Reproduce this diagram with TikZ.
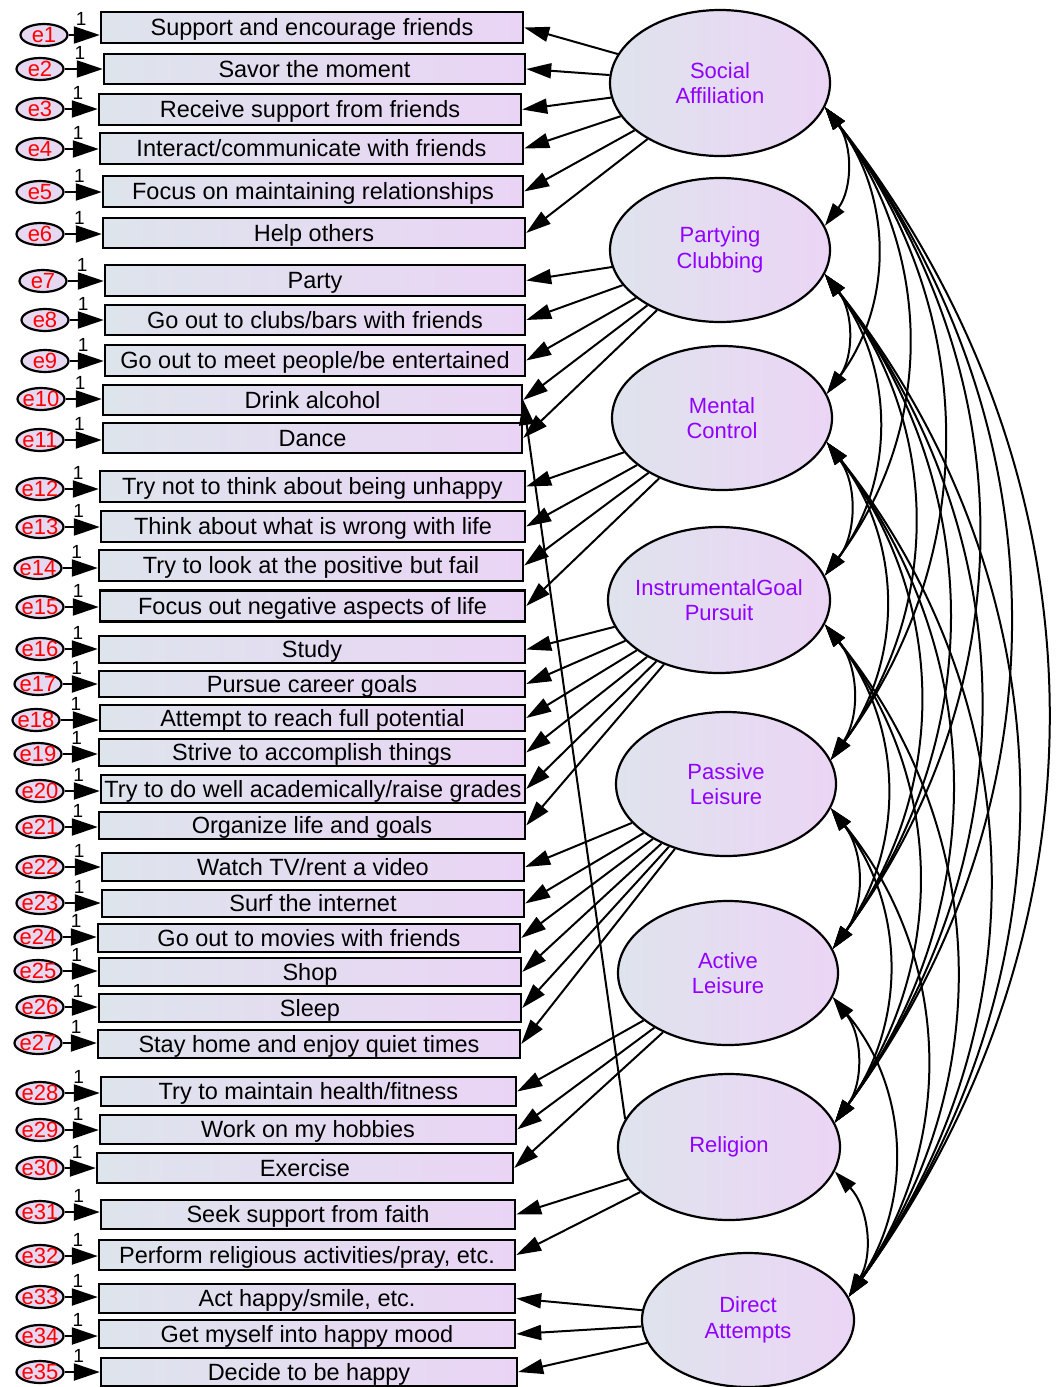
\documentclass[tikz,border=0pt]{standalone}
\usepackage{fontspec}
\setmainfont{Liberation Sans}
\usetikzlibrary{arrows.meta,shapes.geometric,calc}
\definecolor{boxL}{RGB}{222,228,236}
\definecolor{boxR}{RGB}{234,212,245}
\definecolor{ellL}{RGB}{223,227,237}
\definecolor{ellR}{RGB}{235,213,245}
\definecolor{errF}{RGB}{229,216,240}
\definecolor{fcol}{RGB}{145,0,255}
\begin{document}
\begin{tikzpicture}[x=1pt,y=-1pt,
 ind/.style={draw,line width=2.4pt,left color=boxL,right color=boxR,inner sep=0pt,text height=16.8pt,text depth=0pt,font=\fontsize{23.5}{26}\selectfont},
 fac/.style={draw,ellipse,line width=2.2pt,left color=ellL,right color=ellR,inner sep=0pt},
 ftext/.style={text=fcol,align=center,inner sep=0pt,font=\fontsize{22}{25.5}\selectfont},
 err/.style={draw,ellipse,line width=2.2pt,fill=errF,minimum width=47pt,minimum height=22pt,inner sep=0pt},
 etext/.style={text=red,font=\fontsize{22}{24}\selectfont,inner sep=0pt,text height=15.8pt,text depth=0pt},
 one/.style={font=\fontsize{19}{20}\selectfont,above=8pt,pos=0.4,inner sep=0pt},
 errarr/.style={line width=2.2pt,-{Triangle[length=26pt,width=17pt]}},
 load/.style={line width=2pt,-{Triangle[length=25pt,width=15pt]}},
 cov/.style={line width=2pt,{Triangle[length=23pt,width=14pt]}-{Triangle[length=23pt,width=14pt]}},
]
\useasboundingbox (0,0) rectangle (1057,1387);

% indicator boxes
\node[ind,minimum width=422pt,minimum height=31pt] (b1) at (312,27.5) {Support and encourage friends};
\node[ind,minimum width=421pt,minimum height=30pt] (b2) at (314.5,69) {Savor the moment};
\node[ind,minimum width=422pt,minimum height=31pt] (b3) at (310,109.5) {Receive support from friends};
\node[ind,minimum width=423pt,minimum height=31pt] (b4) at (311.5,148.5) {Interact/communicate with friends};
\node[ind,minimum width=420pt,minimum height=31pt] (b5) at (313,191.5) {Focus on maintaining relationships};
\node[ind,minimum width=422pt,minimum height=30pt] (b6) at (314,233) {Help others};
\node[ind,minimum width=420pt,minimum height=31pt] (b7) at (315,280.5) {Party};
\node[ind,minimum width=420pt,minimum height=30pt] (b8) at (315,320) {Go out to clubs/bars with friends};
\node[ind,minimum width=420pt,minimum height=31pt] (b9) at (315,360.5) {Go out to meet people/be entertained};
\node[ind,minimum width=419pt,minimum height=30pt] (b10) at (312.5,400) {Drink alcohol};
\node[ind,minimum width=419pt,minimum height=30pt] (b11) at (312.5,438) {Dance};
\node[ind,minimum width=425pt,minimum height=31pt] (b12) at (312.5,486.5) {Try not to think about being unhappy};
\node[ind,minimum width=424pt,minimum height=31pt] (b13) at (313,526.5) {Think about what is wrong with life};
\node[ind,minimum width=424pt,minimum height=31pt] (b14) at (311,565.5) {Try to look at the positive but fail};
\node[ind,minimum width=425pt,minimum height=31pt] (b15) at (312.5,606) {Focus out negative aspects of life};
\node[ind,minimum width=426pt,minimum height=27pt] (b16) at (312,649.5) {Study};
\node[ind,minimum width=426pt,minimum height=26pt] (b17) at (312,684) {Pursue career goals};
\node[ind,minimum width=425pt,minimum height=26pt] (b18) at (312.5,718) {Attempt to reach full potential};
\node[ind,minimum width=426pt,minimum height=27pt] (b19) at (312,752.5) {Strive to accomplish things};
\node[ind,minimum width=424pt,minimum height=28pt] (b20) at (313,789) {Try to do well academically/raise grades};
\node[ind,minimum width=426pt,minimum height=27pt] (b21) at (312,825.5) {Organize life and goals};
\node[ind,minimum width=422pt,minimum height=28pt] (b22) at (313,867) {Watch TV/rent a video};
\node[ind,minimum width=422pt,minimum height=27pt] (b23) at (313,903.5) {Surf the internet};
\node[ind,minimum width=422pt,minimum height=28pt] (b24) at (309,938) {Go out to movies with friends};
\node[ind,minimum width=422pt,minimum height=28pt] (b25) at (310,972) {Shop};
\node[ind,minimum width=422pt,minimum height=28pt] (b26) at (310,1008) {Sleep};
\node[ind,minimum width=422pt,minimum height=28pt] (b27) at (309,1044) {Stay home and enjoy quiet times};
\node[ind,minimum width=415pt,minimum height=29pt] (b28) at (308.5,1091.5) {Try to maintain health/fitness};
\node[ind,minimum width=416pt,minimum height=29pt] (b29) at (308,1129.5) {Work on my hobbies};
\node[ind,minimum width=416pt,minimum height=30pt] (b30) at (305,1168) {Exercise};
\node[ind,minimum width=414pt,minimum height=29pt] (b31) at (308,1214.5) {Seek support from faith};
\node[ind,minimum width=416pt,minimum height=30pt] (b32) at (307,1255) {Perform religious activities/pray, etc.};
\node[ind,minimum width=416pt,minimum height=29pt] (b33) at (307,1298.5) {Act happy/smile, etc.};
\node[ind,minimum width=416pt,minimum height=28pt] (b34) at (307,1334) {Get myself into happy mood};
\node[ind,minimum width=416pt,minimum height=28pt] (b35) at (309,1372) {Decide to be happy};

% error terms
\foreach \i/\x/\y in {1/44/35,2/40/69,3/40/109,4/40/149,5/40/192,6/40/234,7/43/281,8/45/320,9/45/361,10/41/399,11/40/440,12/40/489,13/40/527,14/38/568,15/40/607,16/40/649,17/38/684,18/36/720,19/38/754,20/40/791,21/40/827,22/40/867,23/40/903,24/38/937,25/38/971,26/40/1007,27/38/1043,28/40/1093,29/40/1130,30/40/1168,31/40/1212,32/40/1256,33/40/1297,34/40/1336,35/40/1372}{
  \node[err] (e\i) at (\x,\y) {};
  \node[etext] (et\i) at (e\i) {e\i};
  \draw[errarr] (e\i.east) -- node[one] (one\i) {1} (e\i.east -| b\i.west);
}

% factors
\node[fac,minimum width=220pt,minimum height=146pt] (F1) at (720,83) {};
\node[fac,minimum width=220pt,minimum height=144pt] (F2) at (720,250) {};
\node[fac,minimum width=220pt,minimum height=144pt] (F3) at (722,418) {};
\node[fac,minimum width=222pt,minimum height=146pt] (F4) at (719,600) {};
\node[fac,minimum width=220pt,minimum height=144pt] (F5) at (726,784) {};
\node[fac,minimum width=220pt,minimum height=144pt] (F6) at (728,973) {};
\node[fac,minimum width=222pt,minimum height=146pt] (F7) at (729,1147) {};
\node[fac,minimum width=212pt,minimum height=134pt] (F8) at (748,1320) {};
\node[ftext] (F1t) at (F1) {Social\\Affiliation};
\node[ftext] (F2t) at (F2) {Partying\\Clubbing};
\node[ftext] (F3t) at (F3) {Mental\\Control};
\node[ftext] (F4t) at (F4) {InstrumentalGoal\\Pursuit};
\node[ftext] (F5t) at (F5) {Passive\\Leisure};
\node[ftext] (F6t) at (F6) {Active\\Leisure};
\node[ftext] (F7t) at (F7) {Religion};
\node[ftext] (F8t) at (F8) {Direct\\Attempts};

% loadings
\foreach \f/\b in {1/1,1/2,1/3,1/4,1/5,1/6,2/7,2/8,2/9,2/10,2/11,3/12,3/13,3/14,3/15,4/16,4/17,4/18,4/19,4/20,4/21,5/22,5/23,5/24,5/25,5/26,5/27,6/28,6/29,6/30,7/31,7/32,8/33,8/34,8/35}{
  \draw[load] (F\f) -- (b\b.east);
}
\draw[load] (F7.165) -- (b10.east);

% covariances
\foreach \i in {1,...,7}{
  \pgfmathtruncatemacro\ni{\i+1}
  \foreach \j in {\ni,...,8}{
    \draw[cov] (F\i.-13) .. controls ($(F\i.-13)!0.39!37:(F\j.13)$) and ($(F\j.13)!0.39!-37:(F\i.-13)$) .. (F\j.13);
  }
}
\end{tikzpicture}
\end{document}
